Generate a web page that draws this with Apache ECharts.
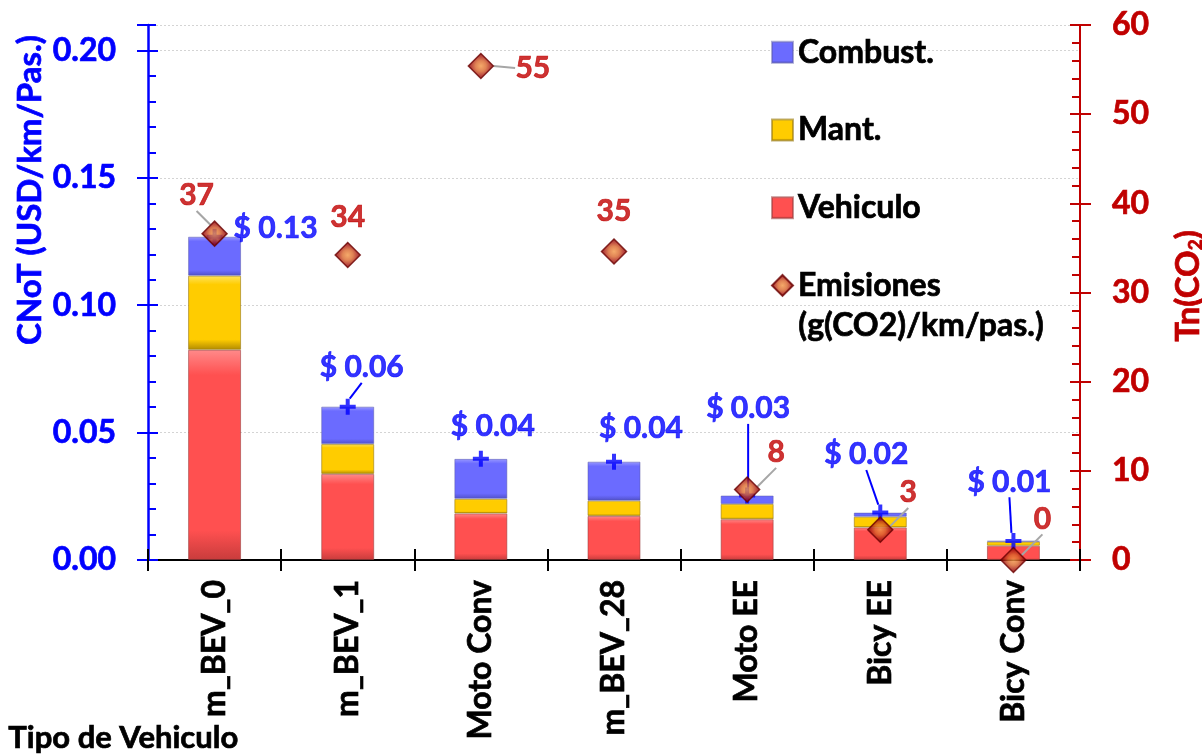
<!DOCTYPE html>
<html>
<head>
<meta charset="utf-8">
<script src="https://cdn.jsdelivr.net/npm/echarts@6/dist/echarts.min.js"></script>
<style>
  html, body { margin: 0; padding: 0; background: #ffffff; }
  #chart { width: 1202px; height: 755px; }
</style>
</head>
<body>
<div id="chart"></div>
<script>
// Cost per passenger-km by vehicle type, split into components (USD/km/pas.)
const categories = ['m_BEV_0', 'm_BEV_1', 'Moto Conv', 'm_BEV_28', 'Moto EE', 'Bicy EE', 'Bicy Conv'];
const vehiculo = [0.0825, 0.0338, 0.0183, 0.0173, 0.0160, 0.0128, 0.0056];
const mant     = [0.0291, 0.0117, 0.0057, 0.0060, 0.0060, 0.0042, 0.0016];
const combust  = [0.0153, 0.0147, 0.0157, 0.0153, 0.0033, 0.0016, 0.0003];
// Emissions, g(CO2)/km/pas. (right axis)
const emisiones = [36.6, 34.2, 55.4, 34.6, 7.9, 3.4, 0];

// Axis scales
const costMax = 0.21, costStep = 0.05, costMinorStep = 0.01;
const emisMax = 60, emisStep = 10, emisMinorStep = 2;

// Label offsets from each point (dx, dy) and whether a leader line is drawn
const totalLabelPos = [[61, -8, false], [14, -39, true], [12, -33, false], [27, -33, false], [1, -87, true], [-14, -58, true], [-4, -59, true]];
const emisLabelPos  = [[-18, -38, true], [0, -38, false], [52, 2, true], [0, -40, false], [29, -37, true], [28, -37, true], [29, -41, true]];

const totals = categories.map((_, i) => vehiculo[i] + mant[i] + combust[i]);

const FONT = 'Lato';
const BLUE = '#0000ff';
const DARKRED = '#c00000';
const STROKE = 0.7; // thin outline in the text colour to give the bold text more weight

function bevel(light, base, dark) {
  return {
    type: 'linear', x: 0, y: 0, x2: 0, y2: 1,
    colorStops: [
      { offset: 0, color: light },
      { offset: 0.12, color: base },
      { offset: 0.86, color: base },
      { offset: 1, color: dark }
    ]
  };
}

function placeLabel(pos) {
  return function (p) {
    const o = pos[p.dataIndex];
    return {
      x: p.rect.x + p.rect.width / 2 + o[0],
      y: p.rect.y + p.rect.height / 2 + o[1],
      align: 'center',
      verticalAlign: 'middle'
    };
  };
}

function boldText(size, color) {
  return {
    fontFamily: FONT, fontWeight: 'bold', fontSize: size, color: color,
    textBorderColor: color, textBorderWidth: STROKE
  };
}

const chart = echarts.init(document.getElementById('chart'), null, { renderer: 'canvas' });

const gridBox = { left: 148, right: 122, top: 25, bottom: 195 };

function catAxis(extra) {
  return Object.assign({
    type: 'category',
    data: categories,
    position: 'bottom',
    boundaryGap: true,
    axisLine: { show: false },
    axisLabel: { show: false },
    axisTick: { show: false },
    splitLine: { show: false }
  }, extra);
}

function valAxis(extra) {
  return Object.assign({
    type: 'value',
    axisLine: { show: false },
    axisLabel: { show: false },
    axisTick: { show: false },
    splitLine: { show: false },
    min: 0
  }, extra);
}

const option = {
  backgroundColor: '#ffffff',
  animation: false,
  grid: Object.assign({ show: false }, gridBox),
  legend: {
    orient: 'vertical',
    left: 771,
    top: 36,
    padding: 0,
    itemWidth: 21,
    itemHeight: 21,
    itemGap: 45,
    selectedMode: false,
    textStyle: Object.assign(boldText(32, '#000000'), { lineHeight: 32 }),
    data: [
      { name: 'Combust.', icon: 'rect' },
      { name: 'Mant.', icon: 'rect' },
      { name: 'Vehiculo', icon: 'rect' },
      { name: 'Emisiones', icon: 'diamond' }
    ]
  },
  xAxis: [
    catAxis({
      axisLine: { show: true, lineStyle: { color: '#000000', width: 2 } },
      axisTick: { show: true, inside: false, length: 11, lineStyle: { color: '#000000', width: 2 } },
      axisLabel: Object.assign({ show: true, rotate: 90, margin: 20 }, boldText(32, '#000000'))
    }),
    catAxis({
      axisTick: { show: true, inside: true, length: 11, lineStyle: { color: '#000000', width: 2 } }
    }),
    catAxis({
      axisTick: { show: true, inside: true, alignWithLabel: true, length: 8, lineStyle: { color: '#000000', width: 2 } }
    }),
    // frame line along the top of the plot area
    catAxis({
      position: 'top',
      axisLine: { show: true, lineStyle: { color: '#000000', width: 2 } }
    })
  ],
  yAxis: [
    valAxis({
      position: 'left', max: costMax, interval: costStep,
      axisLine: { show: true, lineStyle: { color: BLUE, width: 2.5 } },
      axisTick: { show: true, inside: true, length: 10, lineStyle: { color: BLUE, width: 2 } },
      axisLabel: Object.assign({
        show: true, margin: 32, showMaxLabel: false,
        formatter: v => v.toFixed(2)
      }, boldText(32, BLUE)),
      splitLine: { show: true, lineStyle: { color: '#d4d4d4', type: [2, 2], width: 1 } }
    }),
    valAxis({
      position: 'right', max: emisMax, interval: emisStep,
      axisLine: { show: true, lineStyle: { color: DARKRED, width: 2 } },
      axisTick: { show: true, inside: true, length: 10, lineStyle: { color: DARKRED, width: 2 } },
      axisLabel: Object.assign({ show: true, margin: 32 }, boldText(32, DARKRED))
    }),
    valAxis({
      position: 'left', max: costMax, interval: costMinorStep,
      axisTick: { show: true, inside: true, length: 8, lineStyle: { color: BLUE, width: 2 } }
    }),
    valAxis({
      position: 'left', max: costMax, interval: costStep,
      axisTick: { show: true, inside: false, length: 11, lineStyle: { color: BLUE, width: 2 } }
    }),
    valAxis({
      position: 'right', max: emisMax, interval: emisMinorStep,
      axisTick: { show: true, inside: true, length: 8, lineStyle: { color: DARKRED, width: 2 } }
    }),
    valAxis({
      position: 'right', max: emisMax, interval: emisStep,
      axisTick: { show: true, inside: false, length: 11, lineStyle: { color: DARKRED, width: 2 } }
    })
  ],
  series: [
    {
      name: 'Vehiculo', type: 'bar', stack: 'costo', barWidth: 53,
      xAxisIndex: 0, yAxisIndex: 0,
      itemStyle: { color: bevel('#ff8a8a', '#ff5050', '#c83c3c'), borderColor: 'rgba(150,60,60,0.55)', borderWidth: 1 },
      data: vehiculo
    },
    {
      name: 'Mant.', type: 'bar', stack: 'costo', barWidth: 53,
      xAxisIndex: 0, yAxisIndex: 0,
      itemStyle: { color: bevel('#ffe45c', '#ffcc00', '#b08a00'), borderColor: 'rgba(150,120,20,0.6)', borderWidth: 1 },
      data: mant
    },
    {
      name: 'Combust.', type: 'bar', stack: 'costo', barWidth: 53,
      xAxisIndex: 0, yAxisIndex: 0,
      itemStyle: { color: bevel('#9a9aff', '#6b6bff', '#5050c8'), borderColor: 'rgba(90,90,170,0.5)', borderWidth: 1 },
      data: combust
    },
    {
      name: 'Total', type: 'scatter',
      xAxisIndex: 0, yAxisIndex: 0, z: 4,
      symbol: 'path://M6,0H10V6H16V10H10V16H6V10H0V6H6Z',
      symbolSize: 16,
      itemStyle: { color: BLUE },
      label: Object.assign({
        show: true, position: 'inside',
        formatter: p => '$ ' + p.value.toFixed(2)
      }, boldText(30, BLUE)),
      labelLine: { show: true, lineStyle: { color: BLUE, width: 2 } },
      labelLayout: placeLabel(totalLabelPos),
      data: totals.map((v, i) => ({ value: v, labelLine: { show: totalLabelPos[i][2] } }))
    },
    {
      name: 'Emisiones', type: 'scatter',
      xAxisIndex: 0, yAxisIndex: 1, z: 5,
      symbol: 'diamond', symbolSize: 25,
      itemStyle: {
        color: {
          type: 'radial', x: 0.5, y: 0.5, r: 0.5,
          colorStops: [
            { offset: 0, color: '#f29445' },
            { offset: 0.4, color: '#d8642a' },
            { offset: 0.72, color: '#a81810' },
            { offset: 1, color: '#7a0000' }
          ]
        },
        borderColor: '#6a0000', borderWidth: 1.5
      },
      label: Object.assign({
        show: true, position: 'inside',
        formatter: p => String(Math.round(p.value))
      }, boldText(30, DARKRED)),
      labelLine: { show: true, lineStyle: { color: '#a6a6a6', width: 2 } },
      labelLayout: placeLabel(emisLabelPos),
      data: emisiones.map((v, i) => ({ value: v, labelLine: { show: emisLabelPos[i][2] } }))
    }
  ],
  graphic: [
    {
      type: 'text', x: 30, y: 190, rotation: Math.PI / 2,
      style: {
        text: 'CNoT (USD/km/Pas.)', fill: BLUE, stroke: BLUE, lineWidth: STROKE,
        font: 'bold 33px ' + FONT, align: 'center', verticalAlign: 'middle'
      }
    },
    {
      type: 'text', x: 1186, y: 286, rotation: Math.PI / 2,
      style: {
        text: '{a|Tn(CO}{s|2}{a|)}', align: 'center', verticalAlign: 'middle',
        rich: {
          a: { fill: DARKRED, stroke: DARKRED, lineWidth: STROKE, font: 'bold 33px ' + FONT, lineHeight: 38, verticalAlign: 'bottom' },
          s: { fill: DARKRED, stroke: DARKRED, lineWidth: STROKE, font: 'bold 19px ' + FONT, lineHeight: 38, verticalAlign: 'bottom', padding: [14, 0, 0, 0] }
        }
      }
    },
    {
      type: 'text', left: 8, top: 722,
      style: { text: 'Tipo de Vehiculo', fill: '#000000', stroke: '#000000', lineWidth: STROKE, font: 'bold 31px ' + FONT }
    },
    {
      type: 'text', left: 798, top: 309,
      style: { text: '(g(CO2)/km/pas.)', fill: '#000000', stroke: '#000000', lineWidth: STROKE, font: 'bold 32px ' + FONT }
    }
  ]
};

chart.setOption(option);
</script>
</body>
</html>
